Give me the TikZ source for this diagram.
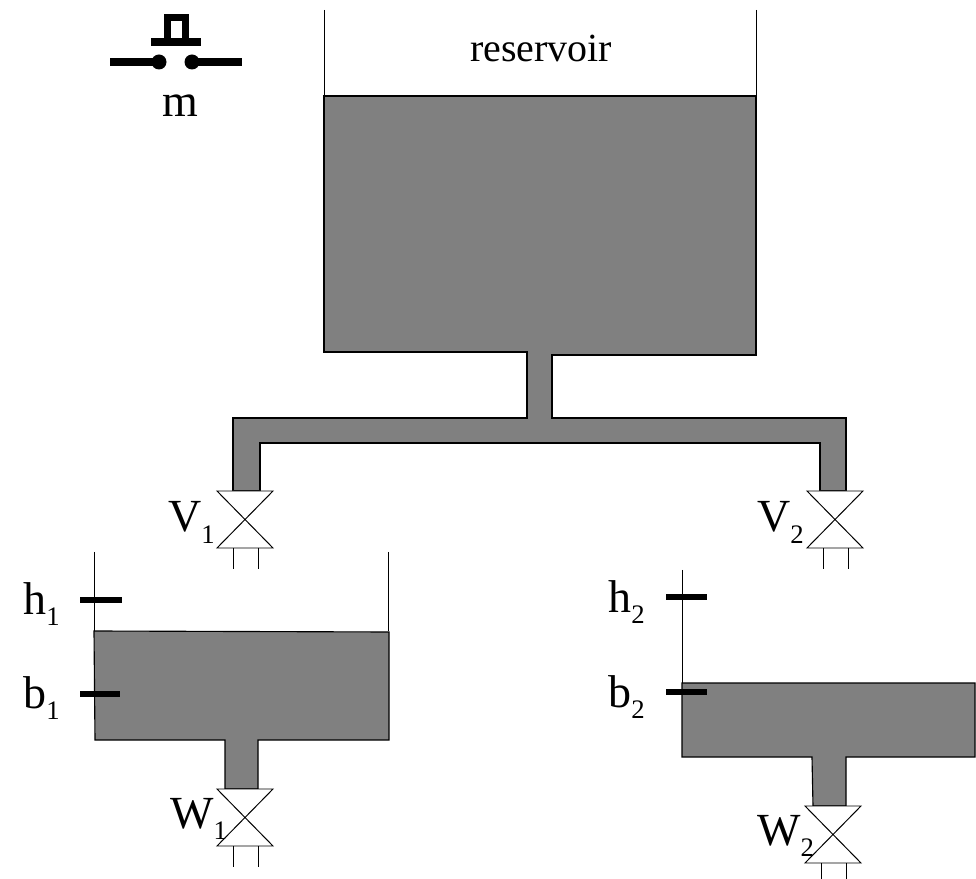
\documentclass[tikz,border=0pt]{standalone}
\usepackage{fontspec}
\setmainfont{Liberation Serif}
\newcommand{\sublabel}[2]{#1{\fontsize{19}{19}\selectfont\raisebox{-8.5pt}{#2}}}

\begin{document}
\begin{tikzpicture}[x=0.025cm,y=-0.025cm]
        \tikzstyle{liquid} = [draw=black, line width=0.8pt, fill=black!50, line join=miter]
        \tikzstyle{wall} = [draw=black, line width=0.7pt]
        \tikzstyle{valvebody} = [draw=black, line width=0.7pt, fill=white]
        \tikzstyle{level} = [draw=black, line width=3.6pt]
        \tikzstyle{switchline} = [draw=black, line width=5pt]
        \tikzstyle{biglabel} = [anchor=base west, inner sep=0pt, font=\fontsize{32.7}{34}\selectfont]
        \useasboundingbox (0,0) rectangle (976,879);

        % reservoir and pipes
        \draw [wall] (324,10) -- (324,96);
        \draw [wall] (756,10) -- (756,96);
        \draw [liquid] (324,96) -- (756,96) -- (756,355) -- (552,355) -- (552,418) -- (846,418) -- (846,491)
            -- (820,491) -- (820,443) -- (260,443) -- (260,491) -- (233,491) -- (233,418) -- (527,418) -- (527,352) -- (324,352) -- cycle;
        \node (reservoir) [anchor=base west, inner sep=0pt, font=\fontsize{28.4}{30}\selectfont] at (470,62) {reservoir};

        % lower tanks
        \draw [wall] (94,552) -- (94,631);
        \draw [wall] (388,552) -- (388,631);
        \draw [liquid] (94,631) -- (389,632) -- (389,740) -- (258,740) -- (258,789) -- (225,789) -- (225,740) -- (95,740) -- cycle;
        \draw [wall] (682,570) -- (682,683);
        \draw [liquid] (682,683) -- (975,683) -- (975,757) -- (846,757) -- (846,806) -- (813,806) -- (812,757) -- (682,757) -- cycle;

        % valves
        \foreach \vx/\vy in {245/491, 835/491, 245/789, 833/806} {
            \draw [valvebody] (\vx-28,\vy) -- (\vx+28,\vy) -- (\vx-28,\vy+57) -- (\vx+28,\vy+57) -- cycle;
            \draw [wall] (\vx-12,\vy+57) -- (\vx-12,\vy+78);
            \draw [wall] (\vx+13,\vy+57) -- (\vx+13,\vy+78);
        }

        % level marks
        \draw [level] (80,600) -- (122,600);
        \draw [level] (80,694) -- (120,694);
        \draw [level] (666,597) -- (707,597);
        \draw [level] (666,692) -- (707,692);

        % push button
        \draw [switchline] (110,62) -- (159,62);
        \draw [switchline] (192,62) -- (242,62);
        \fill (159,62) circle (7.5);
        \fill (192,62) circle (7.5);
        \draw [switchline] (151,42) -- (201,42);
        \draw [switchline] (167.5,42) -- (167.5,17.5) -- (185.5,17.5) -- (185.5,42);

        \node (m) [biglabel] at (162,117) {m};
        \node (v1) [biglabel] at (168,532) {\sublabel{V}{1}};
        \node (v2) [biglabel] at (757,532) {\sublabel{V}{2}};
        \node (w1) [biglabel] at (170,828) {\sublabel{W}{1}};
        \node (w2) [biglabel] at (757,845) {\sublabel{W}{2}};
        \node (h1) [biglabel] at (23,614) {\sublabel{h}{1}};
        \node (b1) [biglabel] at (23,708) {\sublabel{b}{1}};
        \node (h2) [biglabel] at (608,612) {\sublabel{h}{2}};
        \node (b2) [biglabel] at (608,707) {\sublabel{b}{2}};
    \end{tikzpicture}
\end{document}
